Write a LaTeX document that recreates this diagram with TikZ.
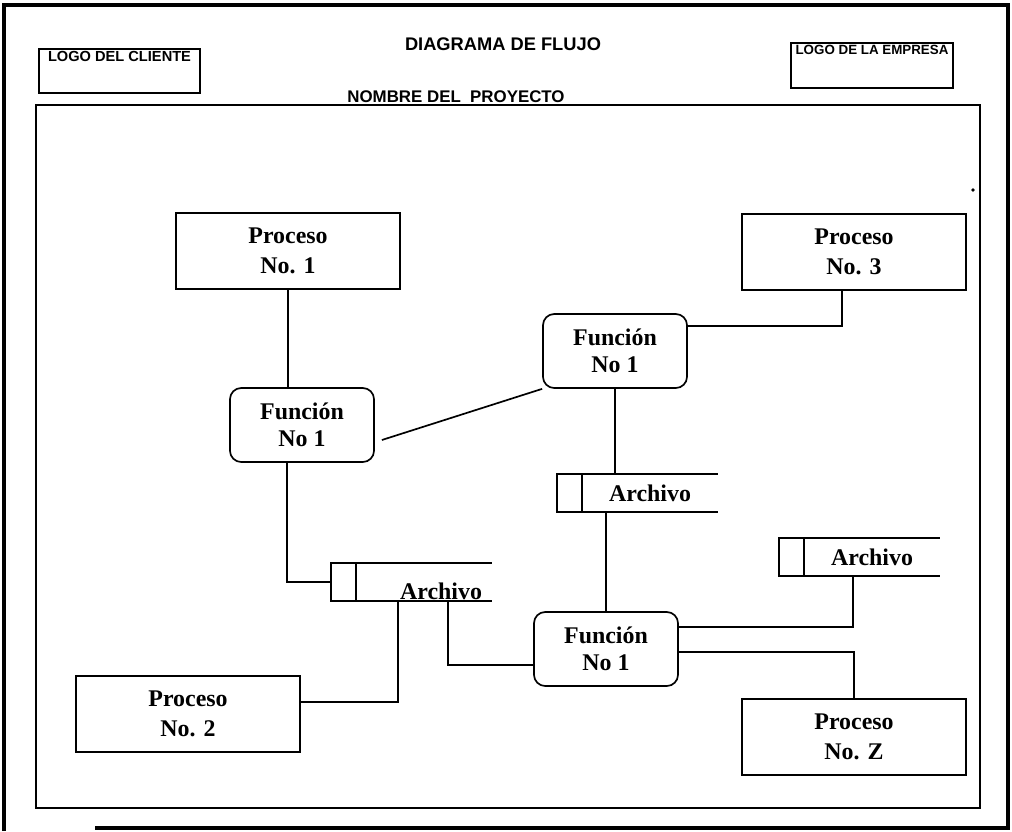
\documentclass[tikz,border=0pt]{standalone}
\usepackage{fontspec}
\setmainfont{Liberation Serif}
\setsansfont{Liberation Sans}
\usetikzlibrary{calc,positioning}
\tikzset{
  proceso/.style={draw,line width=1.2pt,minimum width=5.6cm,minimum height=1.9cm,
    align=center,font=\fontsize{17}{21}\selectfont\bfseries},
  funcion/.style={draw,line width=1.2pt,rounded corners=8pt,minimum width=3.6cm,
    minimum height=1.85cm,align=center,font=\fontsize{17}{19.5}\selectfont\bfseries},
  archivo/.style={minimum width=3.375cm,minimum height=0.94cm,inner sep=0pt,
    font=\fontsize{17}{20}\selectfont\bfseries},
  logo/.style={draw,line width=1.1pt,inner sep=0pt},
  rotulo/.style={font=\sffamily\bfseries\fontsize{#1}{11}\selectfont,inner sep=2pt},
  rotulo/.default=9.5,
  titulo/.style={font=\sffamily\bfseries\fontsize{#1}{14}\selectfont},
  titulo/.default=12,
  enlace/.style={line width=1.2pt},
}
\begin{document}
\begin{tikzpicture}[x=0.025cm,y=-0.025cm]
  \useasboundingbox[fill=white] (0,0) rectangle (1012,831);
  % marcos
  \draw[line width=2.4pt] (4,831) -- (4,5) -- (1008,5) -- (1008,828) -- (95,828);
  \draw[line width=1.3pt] (36,105) rectangle (980,808);
  \fill (973,190) circle (1.4pt);
  % cabecera
  \node[titulo=13] (tit) at (503,44) {DIAGRAMA DE FLUJO};
  \node[titulo,anchor=base,inner sep=0pt] (proy) at (456,102) {NOMBRE DEL\ \ PROYECTO};
  \node[logo,minimum width=4.03cm,minimum height=1.1cm,
    label={[rotulo=10.4,anchor=north]north:LOGO DEL CLIENTE}] (cli) at (119.5,71) {};
  \node[logo,minimum width=4.05cm,minimum height=1.12cm,
    label={[rotulo,anchor=north]north:LOGO DE LA EMPRESA}] (emp) at (872,65.5) {};

  % procesos
  \node[proceso] (p1) at (288,251) {Proceso\\No. 1};
  \node[proceso] (p3) at (854,252) {Proceso\\No. 3};
  \node[proceso] (p2) at (188,714) {Proceso\\No. 2};
  \node[proceso] (pz) at (854,737) {Proceso\\No. Z};

  % funciones
  \node[funcion] (f1) at (302,425) {Función\\No 1};
  \node[funcion] (f2) at (615,351) {Función\\No 1};
  \node[funcion] (f3) at (606,649) {Función\\No 1};

  % archivos
  \node[archivo] (a2) at (650,493) {Archivo};
  \node[archivo] (a3) at (872,557) {Archivo};
  \node[archivo] (a1) at (424,582) {};
  \node[archivo,anchor=base,minimum width=0pt,minimum height=0pt] (a1t) at (441,599) {Archivo};
  \foreach \a in {a1,a2,a3}
    \draw[enlace] (\a.north east) -- ([xshift=-0.625cm]\a.north west)
      -- ([xshift=-0.625cm]\a.south west) -- (\a.south east)
      (\a.north west) -- (\a.south west);

  % enlaces
  \draw[enlace] (p1.south) -- (p1.south |- f1.north);
  \draw[enlace] ($(f1.east)+(7,15)$) -- (f2.south west);
  \draw[enlace] ($(f2.east)+(0,-25)$) -| ($(p3.south)+(-12,0)$);
  \draw[enlace] (f2.south) -- (f2.south |- a2.north);
  \draw[enlace] (f3.north) -- (f3.north |- a2.south);
  \draw[enlace] ($(f1.south)+(-15,0)$) |- ([xshift=-0.625cm]a1.west);
  \draw[enlace] ($(a1.south west)+(42,0)$) |- ($(p2.east)+(0,-12)$);
  \draw[enlace] ($(a1.south west)+(92,0)$) |- ($(f3.west)+(0,16)$);
  \draw[enlace] ($(f3.east)+(0,-22)$) -| ($(a3.south)+(-19,0)$);
  \draw[enlace] ($(f3.east)+(0,3)$) -| (pz.north);
\end{tikzpicture}
\end{document}
